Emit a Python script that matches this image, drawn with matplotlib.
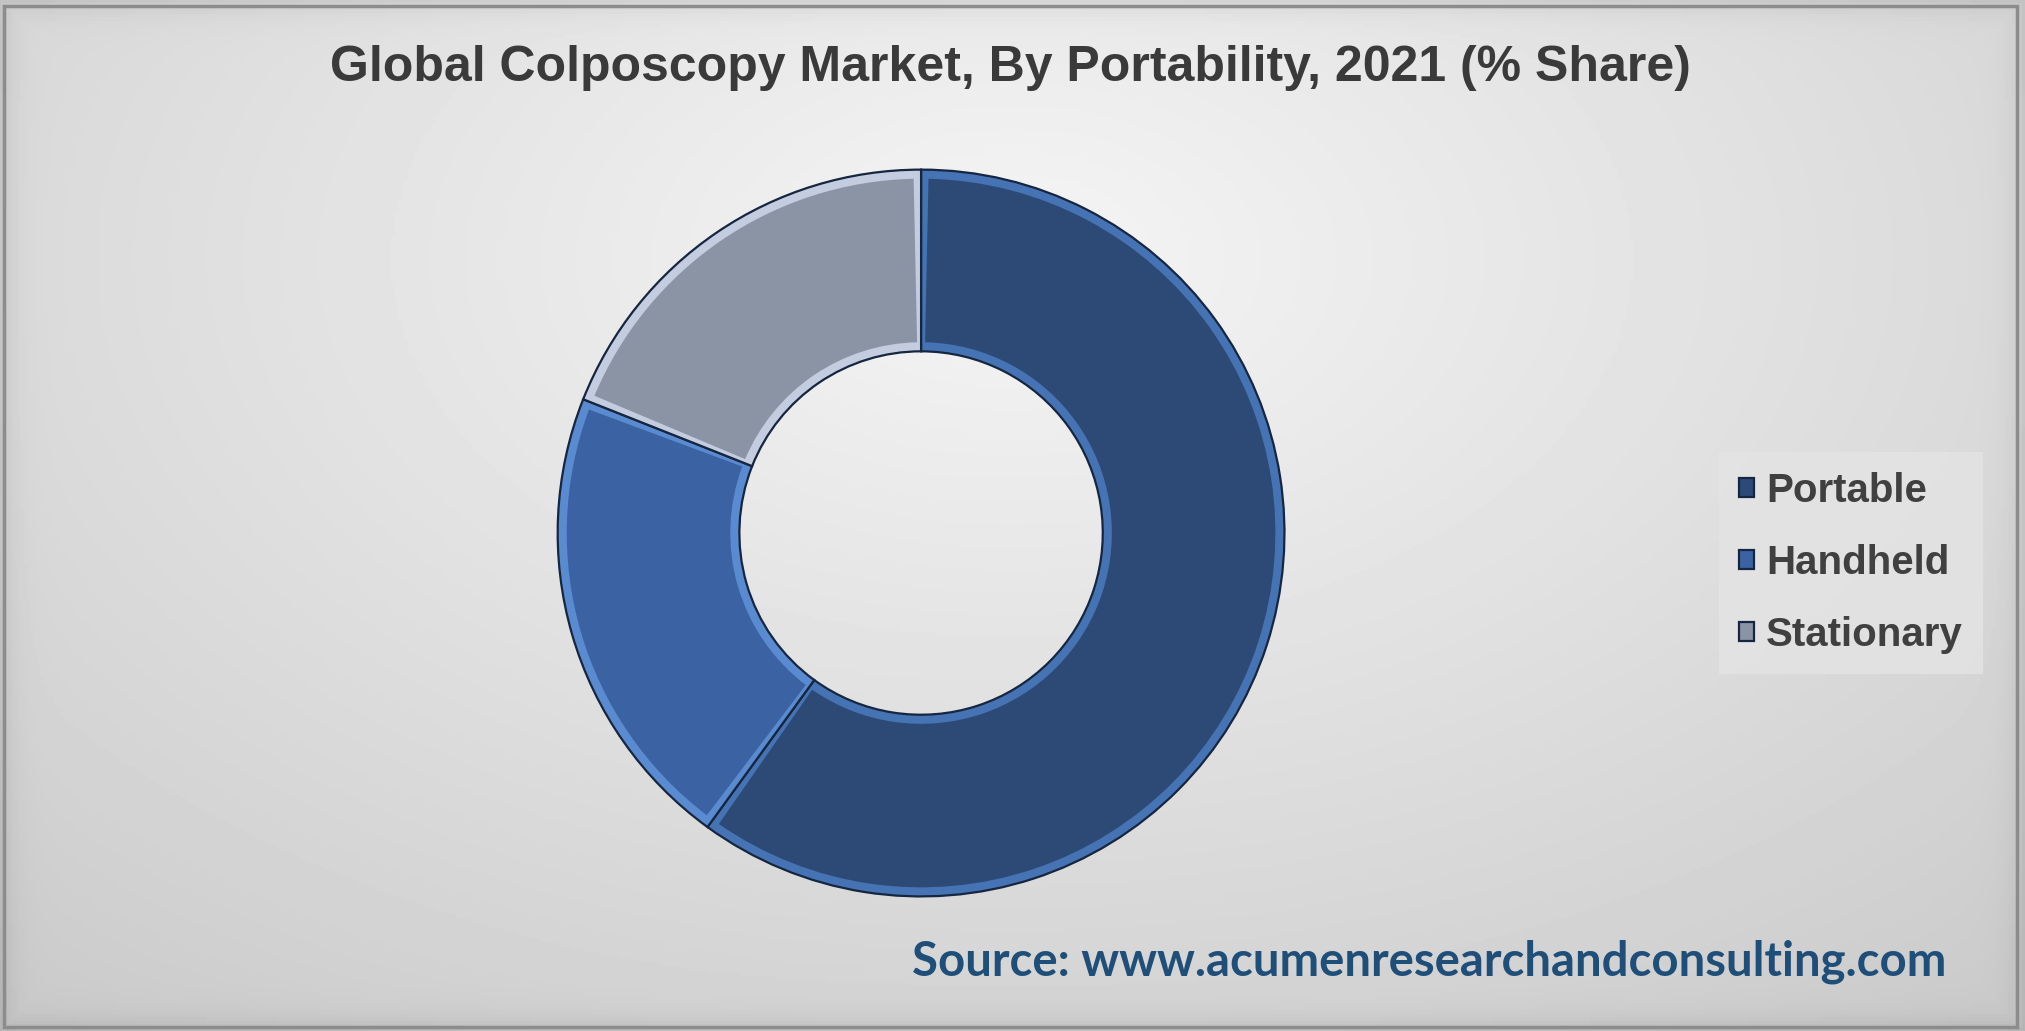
import matplotlib.pyplot as plt
from matplotlib.patches import Wedge, Rectangle
import numpy as np

labels = ['Portable', 'Handheld', 'Stationary']
shares = [60.0, 21.0, 19.0]
colors = ['#2d4a77', '#3b63a3', '#8b94a5']
rim_colors = ['#4673b3', '#5a8ad0', '#c4cde0']
title = 'Global Colposcopy Market, By Portability, 2021 (% Share)'
source = 'Source: www.acumenresearchandconsulting.com'

fig = plt.figure(figsize=(20.25, 10.31), dpi=100)

# background panel with soft light gradient
bg = fig.add_axes([0, 0, 1, 1])
yy, xx = np.mgrid[0:1:300j, 0:1:600j]
d = np.sqrt(((xx - 0.5) / 0.75) ** 2 + ((yy - 0.25) / 0.9) ** 2)
shade = 0.96 - 0.16 * d
edge = np.minimum.reduce([xx * 2025, (1 - xx) * 2025, yy * 1031, (1 - yy) * 1031])
shade = shade - 0.08 * np.exp(-edge / 12)
bg.imshow(shade, cmap='gray', vmin=0, vmax=1, extent=[0, 1, 0, 1],
          aspect='auto', origin='upper')
bg.add_patch(Rectangle((0.002, 0.004), 0.994, 0.99, fill=False,
                       edgecolor='#8c8c8c', linewidth=2.5, transform=bg.transAxes))
bg.set_xlim(0, 1)
bg.set_ylim(0, 1)
bg.axis('off')

fig.text(0.499, 0.934, title, ha='center', va='center', fontsize=36,
         fontweight='bold', color='#3a3a3a', family='Liberation Sans')

# donut
ax = fig.add_axes([0.2736, 0.127, 0.3625, 0.712])
wedges, _ = ax.pie(shares, colors=rim_colors, startangle=90, counterclock=False,
                   radius=1.0, wedgeprops=dict(width=0.5, edgecolor='#162640',
                                               linewidth=1.6))
for w, c in zip(wedges, colors):
    ax.add_patch(Wedge((0, 0), 0.975, w.theta1 + 1.2, w.theta2 - 1.2, width=0.45,
                       facecolor=c, edgecolor='none'))
    ax.add_patch(Wedge((0, 0), 0.93, w.theta1 + 3.5, w.theta2 - 3.5, width=0.36,
                       facecolor=c, edgecolor='none', alpha=0.6))
ax.set_xlim(-1.01, 1.01)
ax.set_ylim(-1.01, 1.01)
ax.set_aspect('equal')

leg = fig.legend(wedges, labels, loc='center left', bbox_to_anchor=(0.839, 0.454),
                 frameon=True, handlelength=0.36, handleheight=0.36,
                 handletextpad=0.3, labelspacing=0.85, borderpad=0.5,
                 prop=dict(family='Liberation Sans', weight='bold', size=29))
leg.get_frame().set_facecolor('#e4e4e4')
leg.get_frame().set_edgecolor('none')
leg.get_frame().set_boxstyle('square', pad=0)
for t in leg.get_texts():
    t.set_color('#404040')
for h, c in zip(leg.legend_handles, colors):
    h.set_facecolor(c)
    h.set_edgecolor('#162640')

fig.text(0.706, 0.067, source, ha='center', va='center', fontsize=34,
         fontweight='bold', color='#1f4e79', family='Lato')

fig.savefig('out.png', dpi=100)
